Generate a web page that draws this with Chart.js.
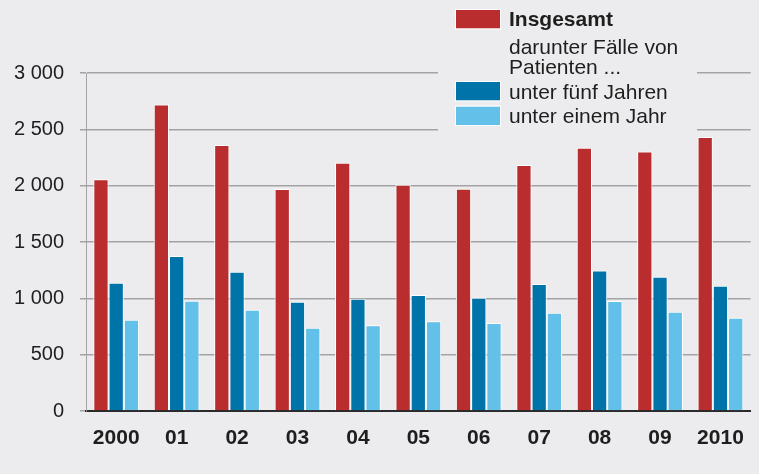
<!DOCTYPE html>
<html>
<head>
<meta charset="utf-8">
<script src="https://cdn.jsdelivr.net/npm/chart.js@4"></script>
<style>
  html, body { margin: 0; padding: 0; background: #ececee; }
  #wrap { width: 759px; height: 474px; position: relative; }
</style>
</head>
<body>
<div id="wrap"><canvas id="c" width="759" height="474"></canvas></div>
<script>
const categories = ['2000', '01', '02', '03', '04', '05', '06', '07', '08', '09', '2010'];
const insgesamt = [2056, 2721, 2360, 1970, 2203, 2008, 1973, 2183, 2337, 2304, 2431];
const unterFuenf = [1139, 1375, 1236, 970, 997, 1029, 1006, 1127, 1248, 1192, 1112];
const unterEins = [810, 979, 899, 739, 760, 796, 781, 873, 976, 881, 828];
const yTicks = [0, 500, 1000, 1500, 2000, 2500, 3000];
const seriesNames = ['Insgesamt', 'unter fünf Jahren', 'unter einem Jahr'];
const legendNote = ['darunter Fälle von', 'Patienten ...'];

const BG = '#ececee';
const RED = '#b92d2f';
const BLUE = '#0074a9';
const LIGHT = '#63c0e8';
const FONT = "'Liberation Sans', Arial, Helvetica, sans-serif";

const legendPlugin = {
  id: 'customLegend',
  afterDraw(chart) {
    const ctx = chart.ctx;
    ctx.save();
    ctx.fillStyle = BG;
    ctx.fillRect(438, 0, 259, 133);
    const boxes = [
      { color: RED, y: 10, text: seriesNames[0], bold: true, base: 26 },
      { color: BLUE, y: 82, text: seriesNames[1], bold: false, base: 99 },
      { color: LIGHT, y: 106.5, text: seriesNames[2], bold: false, base: 123 }
    ];
    ctx.fillStyle = '#1e1e1e';
    ctx.textBaseline = 'alphabetic';
    ctx.textAlign = 'left';
    boxes.forEach(b => {
      ctx.fillStyle = b.color;
      ctx.fillRect(456, b.y, 44, 18.5);
      ctx.strokeStyle = '#ffffff';
      ctx.lineWidth = 1;
      ctx.strokeRect(455.5, b.y - 0.5, 45, 19.5);
      ctx.fillStyle = '#1e1e1e';
      ctx.font = (b.bold ? 'bold ' : '') + '21px ' + FONT;
      ctx.fillText(b.text, 509, b.base);
    });
    ctx.font = '21px ' + FONT;
    ctx.fillText(legendNote[0], 509, 54);
    ctx.fillText(legendNote[1], 509, 73.5);
    ctx.restore();
  }
};

const fmt = v => String(v).replace(/\B(?=(\d{3})+(?!\d))/g, ' ');

new Chart(document.getElementById('c'), {
  type: 'bar',
  data: {
    labels: categories,
    datasets: [
      { label: seriesNames[0], data: insgesamt, backgroundColor: RED },
      { label: seriesNames[1], data: unterFuenf, backgroundColor: BLUE },
      { label: seriesNames[2], data: unterEins, backgroundColor: LIGHT }
    ].map(d => Object.assign(d, {
      borderColor: '#ffffff', borderWidth: 1, borderSkipped: 'start',
      categoryPercentage: 0.757, barPercentage: 1.0
    }))
  },
  options: {
    responsive: false,
    animation: false,
    devicePixelRatio: 1,
    layout: { padding: { top: 73, right: 4, left: 0, bottom: 0 } },
    plugins: { legend: { display: false }, tooltip: { enabled: false } },
    scales: {
      x: {
        grid: { display: false, drawTicks: false },
        border: { display: true, color: '#2a2a2a', width: 2 },
        ticks: {
          padding: 15,
          color: '#1e1e1e',
          font: { family: FONT, size: 21, weight: 'bold' },
          maxRotation: 0, autoSkip: false
        },
        afterFit(scale) { scale.height = 63; }
      },
      y: {
        min: 0, max: 3000,
        afterBuildTicks(scale) { scale.ticks = yTicks.map(v => ({ value: v })); },
        grid: { color: '#a3a3a5', lineWidth: 1.5, drawTicks: true, tickLength: 6, tickColor: '#a3a3a5' },
        border: { display: true, color: '#a3a3a5', width: 1 },
        ticks: {
          padding: 16,
          color: '#1e1e1e',
          font: { family: FONT, size: 20 },
          callback: v => fmt(v)
        },
        afterFit(scale) { scale.width = 86; }
      }
    }
  },
  plugins: [legendPlugin]
});
</script>
</body>
</html>
